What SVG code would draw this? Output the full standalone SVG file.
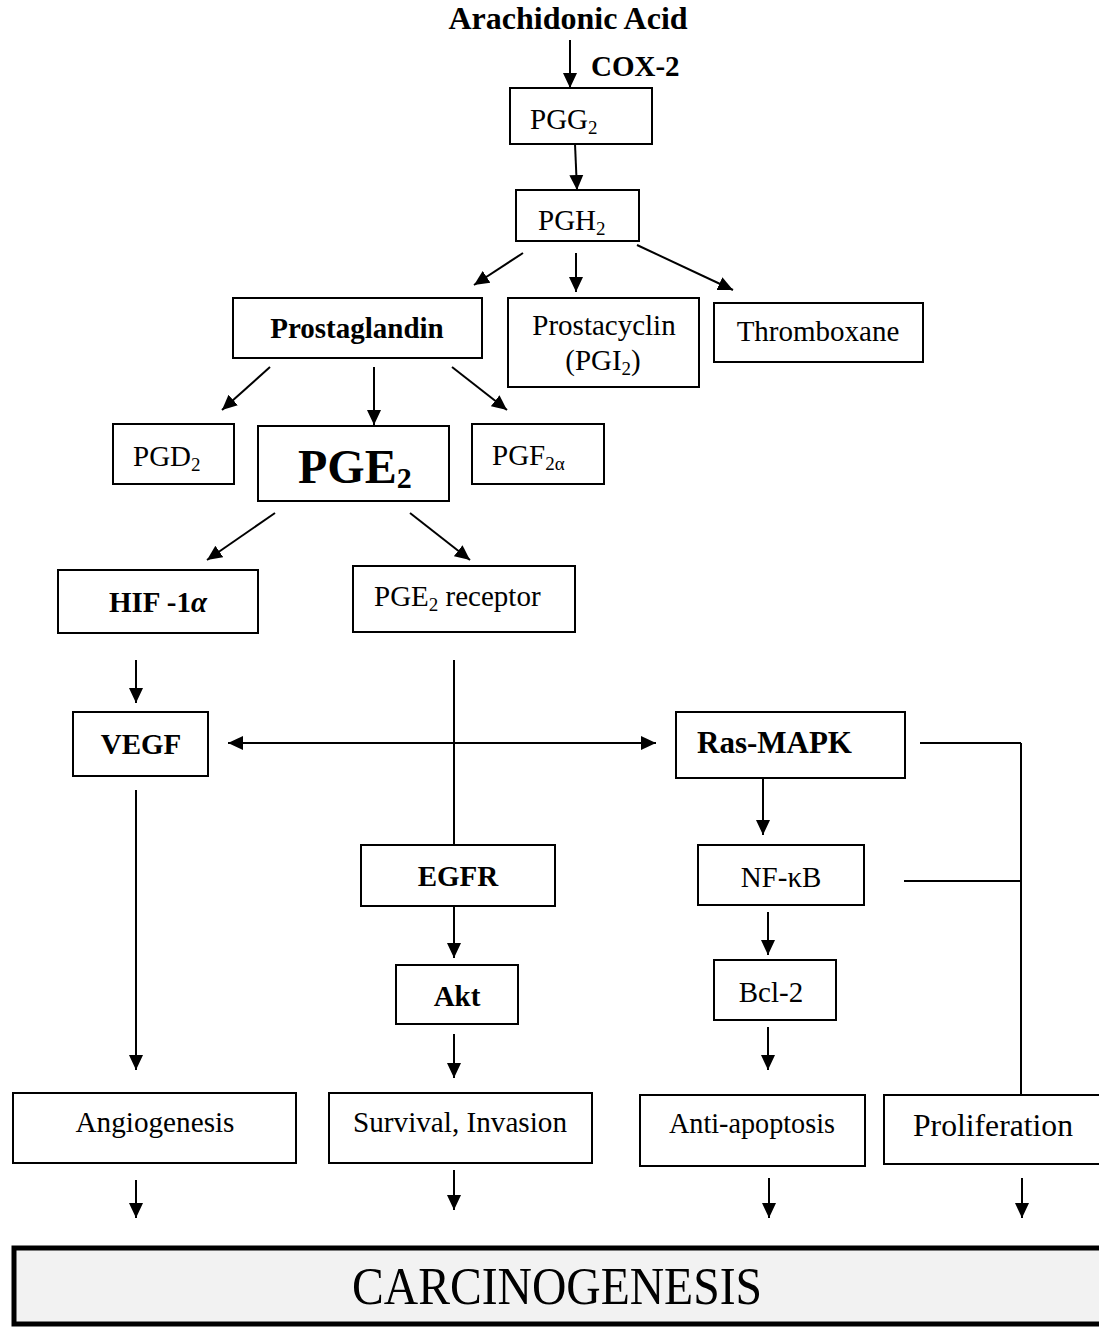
<svg xmlns="http://www.w3.org/2000/svg" width="1099" height="1329" viewBox="0 0 1099 1329">
<style>
.b{fill:#fff;stroke:#000;stroke-width:2}
.t{font-family:"Liberation Serif","Times New Roman",serif;font-size:29px;fill:#000}
.bd{font-weight:bold}
.s{font-size:19px}
.c{stroke:#000;stroke-width:2;fill:none}
.a{marker-end:url(#ah)}
</style>
<defs>
<marker id="ah" markerUnits="userSpaceOnUse" markerWidth="16" markerHeight="16" refX="15" refY="8" orient="auto">
<path d="M0,1 L15,8 L0,15 Z" fill="#000"/>
</marker>
<marker id="as" markerUnits="userSpaceOnUse" markerWidth="16" markerHeight="16" refX="0" refY="8" orient="auto">
<path d="M15,1 L0,8 L15,15 Z" fill="#000"/>
</marker>
</defs>
<g id="connectors">
<path class="c a" d="M570,40 V88"/>
<path class="c a" d="M575,144 L577,190"/>
<path class="c a" d="M523,253 L474,285"/>
<path class="c a" d="M576,253 V292"/>
<path class="c a" d="M637,245 L733,290"/>
<path class="c a" d="M270,367 L222,410"/>
<path class="c a" d="M374,367 V425"/>
<path class="c a" d="M452,367 L507,410"/>
<path class="c a" d="M275,513 L207,560"/>
<path class="c a" d="M410,513 L470,560"/>
<path class="c a" d="M136,660 V703"/>
<path class="c a" d="M228,743 H656" marker-start="url(#as)"/>
<path class="c a" d="M454,660 V862"/>
<path class="c" d="M920,743 H1021 M904,881 H1021"/>
<path class="c a" d="M1021,743 V1112"/>
<path class="c a" d="M763,778 V835"/>
<path class="c a" d="M454,906 V958"/>
<path class="c a" d="M768,912 V955"/>
<path class="c a" d="M454,1034 V1078"/>
<path class="c a" d="M768,1027 V1070"/>
<path class="c a" d="M136,790 V1070"/>
<path class="c a" d="M136,1180 V1218"/>
<path class="c a" d="M454,1170 V1210"/>
<path class="c a" d="M769,1178 V1218"/>
<path class="c a" d="M1022,1178 V1218"/>
</g>
<g id="arachidonic"><text class="t bd" x="568" y="29" text-anchor="middle" style="font-size:32px">Arachidonic Acid</text></g>
<g id="cox2"><text class="t bd" x="591" y="76">COX-2</text></g>
<g id="pgg2"><rect class="b" x="510" y="88" width="142" height="56"/><text class="t" x="530" y="129">PGG<tspan class="s" dy="5">2</tspan></text></g>
<g id="pgh2"><rect class="b" x="516" y="190" width="123" height="51"/><text class="t" x="538" y="230">PGH<tspan class="s" dy="5">2</tspan></text></g>
<g id="prostaglandin"><rect class="b" x="233" y="298" width="249" height="60"/><text class="t bd" x="357" y="338" text-anchor="middle">Prostaglandin</text></g>
<g id="prostacyclin"><rect class="b" x="508" y="298" width="191" height="89"/><text class="t" x="604" y="335" text-anchor="middle">Prostacyclin</text><text class="t" x="603" y="370" text-anchor="middle">(PGI<tspan class="s" dy="5">2</tspan><tspan dy="-5">)</tspan></text></g>
<g id="thromboxane"><rect class="b" x="714" y="303" width="209" height="59"/><text class="t" x="818" y="341" text-anchor="middle">Thromboxane</text></g>
<g id="pgd2"><rect class="b" x="113" y="424" width="121" height="60"/><text class="t" x="133" y="466">PGD<tspan class="s" dy="5">2</tspan></text></g>
<g id="pge2"><rect class="b" x="258" y="426" width="191" height="75"/><text class="t bd" x="298" y="483" style="font-size:48px">PGE<tspan dy="5" style="font-size:30px">2</tspan></text></g>
<g id="pgf2a"><rect class="b" x="472" y="424" width="132" height="60"/><text class="t" x="492" y="465">PGF<tspan class="s" dy="5">2α</tspan></text></g>
<g id="hif1a"><rect class="b" x="58" y="570" width="200" height="63"/><text class="t bd" x="158" y="612" text-anchor="middle">HIF -1<tspan font-style="italic">α</tspan></text></g>
<g id="pge2receptor"><rect class="b" x="353" y="566" width="222" height="66"/><text class="t" x="374" y="606">PGE<tspan class="s" dy="5">2</tspan><tspan dy="-5"> receptor</tspan></text></g>
<g id="vegf"><rect class="b" x="73" y="712" width="135" height="64"/><text class="t bd" x="141" y="754" text-anchor="middle">VEGF</text></g>
<g id="rasmapk"><rect class="b" x="676" y="712" width="229" height="66"/><text class="t bd" x="697" y="753" style="font-size:31px">Ras-MAPK</text></g>
<g id="egfr"><rect class="b" x="361" y="845" width="194" height="61"/><text class="t bd" x="458" y="886" text-anchor="middle">EGFR</text></g>
<g id="nfkb"><rect class="b" x="698" y="845" width="166" height="60"/><text class="t" x="781" y="887" text-anchor="middle">NF-κB</text></g>
<g id="akt"><rect class="b" x="396" y="965" width="122" height="59"/><text class="t bd" x="457" y="1006" text-anchor="middle">Akt</text></g>
<g id="bcl2"><rect class="b" x="714" y="960" width="122" height="60"/><text class="t" x="771" y="1002" text-anchor="middle">Bcl-2</text></g>
<g id="angiogenesis"><rect class="b" x="13" y="1093" width="283" height="70"/><text class="t" x="155" y="1132" text-anchor="middle" style="font-size:30px" textLength="159" lengthAdjust="spacingAndGlyphs">Angiogenesis</text></g>
<g id="survival"><rect class="b" x="329" y="1093" width="263" height="70"/><text class="t" x="460" y="1132" text-anchor="middle" style="font-size:30px" textLength="214" lengthAdjust="spacingAndGlyphs">Survival, Invasion</text></g>
<g id="antiapoptosis"><rect class="b" x="640" y="1095" width="225" height="71"/><text class="t" x="752" y="1133" text-anchor="middle" style="font-size:30px" textLength="166" lengthAdjust="spacingAndGlyphs">Anti-apoptosis</text></g>
<g id="proliferation"><rect class="b" x="884" y="1095" width="220" height="69"/><text class="t" x="993" y="1136" text-anchor="middle" style="font-size:32px" textLength="160" lengthAdjust="spacingAndGlyphs">Proliferation</text></g>
<g id="carcinogenesis"><rect x="14" y="1248" width="1095" height="76" fill="#f2f2f2" stroke="#000" stroke-width="5"/><text class="t" x="557" y="1304" text-anchor="middle" style="font-size:52px" textLength="410" lengthAdjust="spacingAndGlyphs">CARCINOGENESIS</text></g>
</svg>
